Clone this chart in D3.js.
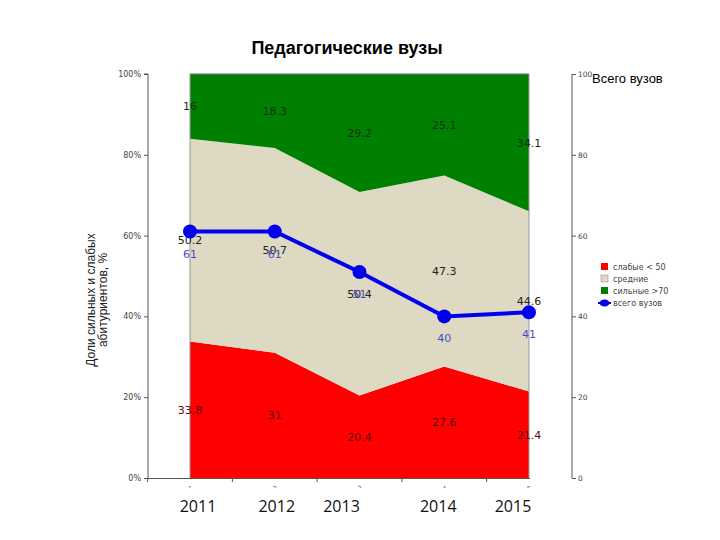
<!DOCTYPE html>
<html>
<head>
<meta charset="utf-8">
<script src="https://cdn.jsdelivr.net/npm/d3@7"></script>
<style>
  body { margin: 0; background: #fff; }
  svg { display: block; }
</style>
</head>
<body>
<div id="chart"></div>
<script>
// --- data -------------------------------------------------------------
var categories = [1, 2, 3, 4, 5];
var years = ['2011', '2012', '2013', '2014', '2015'];
var weak = [33.8, 31, 20.4, 27.6, 21.4];       // слабые < 50
var middle = [50.2, 50.7, 50.4, 47.3, 44.6];   // средние
var strong = [16, 18.3, 29.2, 25.1, 34.1];     // сильные > 70
var totalVuz = [61, 61, 51, 40, 41];           // всего вузов
var leftTicks = [0, 20, 40, 60, 80, 100];
var rightTicks = [0, 20, 40, 60, 80, 100];
var legendItems = ['слабые < 50', 'средние', 'сильные >70', 'всего вузов'];

var W = 720, H = 540;
var colors = { weak: '#ff0000', middle: '#ddd9c3', strong: '#008000', line: '#0000ee' };

var svg = d3.select('#chart').append('svg')
  .attr('width', W).attr('height', H);

// scales
var x = d3.scalePoint().domain(categories).range([190, 529]);
var step = x.step();
var y = d3.scaleLinear().domain([0, 100]).range([478, 74]);
var yR = d3.scaleLinear().domain([0, 100]).range([478, 74]);

// stacked series
var rows = categories.map(function (c, i) {
  return { cat: c, weak: weak[i], middle: middle[i], strong: strong[i] };
});
var stack = d3.stack().keys(['weak', 'middle', 'strong']);
var series = stack(rows);

var area = d3.area()
  .x(function (d) { return x(d.data.cat); })
  .y0(function (d) { return y(d[0]); })
  .y1(function (d) { return y(Math.min(100, d[1])); });

svg.append('g').selectAll('path')
  .data(series)
  .join('path')
  .attr('d', area)
  .attr('fill', function (s) { return colors[s.key]; });

// thin gray edges at the ends of the area
svg.append('g').selectAll('line')
  .data([categories[0], categories[categories.length - 1]])
  .join('line')
  .attr('x1', function (d) { return x(d); }).attr('x2', function (d) { return x(d); })
  .attr('y1', y(0)).attr('y2', y(100))
  .attr('stroke', '#999').attr('stroke-width', 1);
svg.append('line')
  .attr('x1', x(1)).attr('x2', x(5)).attr('y1', y(100)).attr('y2', y(100))
  .attr('stroke', '#777').attr('stroke-width', 1);

// segment labels
var labelColors = { weak: '#5a0a0a', middle: '#222', strong: '#163016' };
series.forEach(function (s) {
  svg.append('g').selectAll('text')
    .data(s)
    .join('text')
    .attr('x', function (d) { return x(d.data.cat); })
    .attr('y', function (d) { return y((d[0] + Math.min(100, d[1])) / 2) + 4; })
    .attr('text-anchor', 'middle')
    .attr('font-family', 'DejaVu Sans, Verdana, sans-serif')
    .attr('font-size', 11)
    .attr('fill', labelColors[s.key])
    .text(function (d) { return d.data[s.key]; });
});

// left axis
var leftAxis = d3.axisLeft(y).tickValues(leftTicks).tickSize(4)
  .tickFormat(function (d) { return d + '%'; });
var gL = svg.append('g').attr('transform', 'translate(148,0)').call(leftAxis);
gL.select('.domain').attr('stroke', '#555').attr('d', 'M-4,' + y(100) + 'H0V' + y(0));
gL.selectAll('text').attr('font-family', 'DejaVu Sans, Verdana, sans-serif')
  .attr('font-size', 8).attr('fill', '#444');
gL.selectAll('.tick line').attr('stroke', '#555');

// right axis
var rightAxis = d3.axisRight(yR).tickValues(rightTicks).tickSize(4).tickPadding(2);
var gR = svg.append('g').attr('transform', 'translate(572,0)').call(rightAxis);
gR.select('.domain').attr('stroke', '#555').attr('d', 'M0,' + y(100) + 'V' + y(0));
gR.selectAll('text').attr('font-family', 'DejaVu Sans, Verdana, sans-serif')
  .attr('font-size', 7.5).attr('fill', '#444');
gR.selectAll('.tick line').attr('stroke', '#555');

// bottom axis: band boundaries and small category labels
var bottomTicks = categories.map(function (c) { return x(c) - step / 2; });
var gB = svg.append('g');
gB.append('line').attr('x1', 148).attr('x2', x(5) + 1).attr('y1', y(0) + 0.5).attr('y2', y(0) + 0.5)
  .attr('stroke', '#555');
gB.selectAll('line.t').data(bottomTicks).join('line').attr('class', 't')
  .attr('x1', function (d) { return d; }).attr('x2', function (d) { return d; })
  .attr('y1', y(0)).attr('y2', y(0) + 4).attr('stroke', '#555');
svg.append('clipPath').attr('id', 'cut').append('rect')
  .attr('x', 0).attr('y', 0).attr('width', W).attr('height', y(0) + 10);
gB.selectAll('text.c').data(categories).join('text').attr('class', 'c')
  .attr('x', function (d) { return x(d); }).attr('y', y(0) + 13)
  .attr('text-anchor', 'middle')
  .attr('font-family', 'DejaVu Sans, Verdana, sans-serif')
  .attr('font-size', 7).attr('fill', '#666')
  .attr('clip-path', 'url(#cut)')
  .text(function (d) { return d; });

// year labels (placed slightly off the category centres, as in the slide)
var yearShift = [8, 2, -18, -6, -16];
svg.append('g').selectAll('text')
  .data(years)
  .join('text')
  .attr('x', function (d, i) { return x(categories[i]) + yearShift[i]; })
  .attr('y', 512)
  .attr('text-anchor', 'middle')
  .attr('font-family', 'Open Sans, sans-serif')
  .attr('font-size', 16)
  .attr('fill', '#111')
  .text(function (d) { return d; });

// line: всего вузов
var line = d3.line()
  .x(function (d, i) { return x(categories[i]); })
  .y(function (d) { return yR(d); });
svg.append('path')
  .datum(totalVuz)
  .attr('d', line)
  .attr('fill', 'none')
  .attr('stroke', colors.line)
  .attr('stroke-width', 4);
svg.append('g').selectAll('circle')
  .data(totalVuz)
  .join('circle')
  .attr('cx', function (d, i) { return x(categories[i]); })
  .attr('cy', function (d) { return yR(d); })
  .attr('r', 7)
  .attr('fill', colors.line);
svg.append('g').selectAll('text')
  .data(totalVuz)
  .join('text')
  .attr('x', function (d, i) { return x(categories[i]); })
  .attr('y', function (d) { return yR(d) + 26; })
  .attr('text-anchor', 'middle')
  .attr('font-family', 'DejaVu Sans, Verdana, sans-serif')
  .attr('font-size', 11)
  .attr('fill', '#4a4ac8')
  .text(function (d) { return d; });

// title and right label
svg.append('text')
  .attr('x', 347).attr('y', 54)
  .attr('text-anchor', 'middle')
  .attr('font-family', 'Liberation Sans, Arial, sans-serif')
  .attr('font-weight', 'bold')
  .attr('font-size', 18)
  .text('Педагогические вузы');
svg.append('text')
  .attr('x', 592).attr('y', 83)
  .attr('font-family', 'Liberation Sans, Arial, sans-serif')
  .attr('font-size', 13)
  .text('Всего вузов');

// y axis title
var yt = svg.append('text')
  .attr('transform', 'translate(95,300) rotate(-90)')
  .attr('text-anchor', 'middle')
  .attr('font-family', 'Liberation Sans, Arial, sans-serif')
  .attr('font-size', 12)
  .attr('fill', '#222');
yt.append('tspan').attr('x', 0).attr('dy', 0).text('Доли сильных и слабых');
yt.append('tspan').attr('x', 0).attr('dy', 12).text('абитуриентов, %');

// legend
var legColors = [colors.weak, colors.middle, colors.strong, colors.line];
var leg = svg.append('g').attr('transform', 'translate(601,267)');
var items = leg.selectAll('g').data(legendItems).join('g')
  .attr('transform', function (d, i) { return 'translate(0,' + i * 12 + ')'; });
items.each(function (d, i) {
  var g = d3.select(this);
  if (i < 3) {
    g.append('rect').attr('x', 0).attr('y', -4).attr('width', 7).attr('height', 7)
      .attr('fill', legColors[i]).attr('stroke', i === 1 ? '#999' : 'none').attr('stroke-width', 0.6);
  } else {
    g.append('line').attr('x1', -3).attr('x2', 10).attr('y1', 0).attr('y2', 0)
      .attr('stroke', legColors[i]).attr('stroke-width', 2);
    g.append('ellipse').attr('cx', 3.5).attr('cy', 0).attr('rx', 5).attr('ry', 3.5).attr('fill', legColors[i]);
  }
  g.append('text').attr('x', 12).attr('y', 3)
    .attr('font-family', 'DejaVu Sans, Verdana, sans-serif')
    .attr('font-size', 8).attr('fill', '#444')
    .text(d);
});
</script>
</body>
</html>
